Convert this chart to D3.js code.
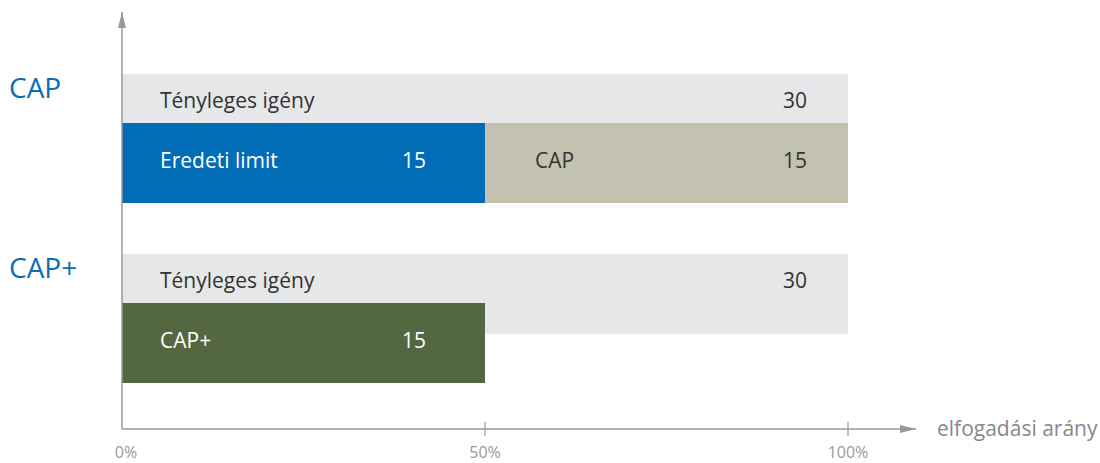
<!DOCTYPE html>
<head>
  <meta charset="utf-8">
  <script src="https://d3js.org/d3.v7.min.js"></script>
  <style>
    body { margin:0; background:#fff; }
  </style>
</head>
<body>
  <svg id="chart" width="1100" height="463"></svg>
  <script>
    // data
    const groups = ["CAP", "CAP+"];
    const demandLabel = "Tényleges igény";
    const demand = [30, 30];
    // segments per group: label, value, colour
    const segLabels = [["Eredeti limit", "CAP"], ["CAP+"]];
    const segValues = [[15, 15], [15]];
    const segColors = [["#006db6", "#c3c2b0"], ["#536841"]];
    const tickValues = [0, 0.5, 1];
    const axisTitle = "elfogadási arány";

    const svg = d3.select("#chart")
      .style("font-family", "'Open Sans', sans-serif");

    const x = d3.scaleLinear().domain([0, 1]).range([122, 848]);
    const y = d3.scaleBand().domain(groups).range([74, 434]);
    const barH = 80, offset = 49;
    const axisY = 429;
    const grey = "#999";
    const fs = "21px";

    // group labels
    svg.selectAll(".glabel")
      .data(groups)
      .enter().append("text")
      .attr("x", 9)
      .attr("y", d => y(d) + 14)
      .attr("dy", "0.35em")
      .attr("fill", "#0a6eb4")
      .style("font-size", "28px")
      .text(d => d);

    groups.forEach((g, i) => {
      const top = y(g);
      // demand bar
      svg.append("rect")
        .attr("x", x(0)).attr("y", top)
        .attr("width", x(1) - x(0)).attr("height", barH)
        .attr("fill", "#e6e7e9");
      svg.append("text")
        .attr("x", 160).attr("y", top + 27).attr("dy", "0.35em")
        .attr("fill", "#333").style("font-size", fs)
        .text(demandLabel);
      svg.append("text")
        .attr("x", 807).attr("y", top + 27).attr("dy", "0.35em")
        .attr("text-anchor", "end")
        .attr("fill", "#333").style("font-size", fs)
        .text(demand[i]);

      // stacked segments
      let acc = 0;
      segValues[i].forEach((v, j) => {
        const x0 = x(acc / demand[i]);
        const x1 = x((acc + v) / demand[i]);
        acc += v;
        const light = j > 0;
        svg.append("rect")
          .attr("x", x0).attr("y", top + offset)
          .attr("width", x1 - x0).attr("height", barH)
          .attr("fill", segColors[i][j]);
        svg.append("text")
          .attr("x", x0 + (j === 0 ? 38 : 50)).attr("y", top + offset + 38).attr("dy", "0.35em")
          .attr("fill", light ? "#333" : "#fff").style("font-size", fs)
          .text(segLabels[i][j]);
        svg.append("text")
          .attr("x", x1 - (j === 0 ? 59 : 41)).attr("y", top + offset + 38).attr("dy", "0.35em")
          .attr("text-anchor", "end")
          .attr("fill", light ? "#333" : "#fff").style("font-size", fs)
          .text(v);
      });
    });

    // axes
    svg.append("defs").append("marker")
      .attr("id", "arrow").attr("viewBox", "0 0 16 8")
      .attr("refX", 16).attr("refY", 4)
      .attr("markerWidth", 16).attr("markerHeight", 8)
      .attr("markerUnits", "userSpaceOnUse")
      .attr("orient", "auto")
      .append("path").attr("d", "M0,0L16,4L0,8Z").attr("fill", grey);

    svg.append("line")
      .attr("x1", x(0)).attr("y1", axisY).attr("x2", x(0)).attr("y2", 12)
      .attr("stroke", grey).attr("stroke-width", 1.5)
      .attr("marker-end", "url(#arrow)");
    svg.append("line")
      .attr("x1", x(0)).attr("y1", axisY).attr("x2", 916).attr("y2", axisY)
      .attr("stroke", grey).attr("stroke-width", 1.5)
      .attr("marker-end", "url(#arrow)");

    svg.selectAll(".tick")
      .data(tickValues.filter(d => d > 0))
      .enter().append("line")
      .attr("x1", d => x(d)).attr("x2", d => x(d))
      .attr("y1", axisY - 7).attr("y2", axisY + 7)
      .attr("stroke", grey).attr("stroke-width", 1.2);

    svg.selectAll(".tlabel")
      .data(tickValues)
      .enter().append("text")
      .attr("x", d => x(d) + (d === 0 ? 4 : 0))
      .attr("y", 452)
      .attr("text-anchor", "middle")
      .attr("dy", "0.35em")
      .attr("fill", "#999").style("font-size", "16px")
      .text(d => d3.format(".0%")(d));

    svg.append("text")
      .attr("x", 937).attr("y", 429).attr("dy", "0.35em")
      .attr("fill", "#888").style("font-size", fs)
      .text(axisTitle);
  </script>
</body>
